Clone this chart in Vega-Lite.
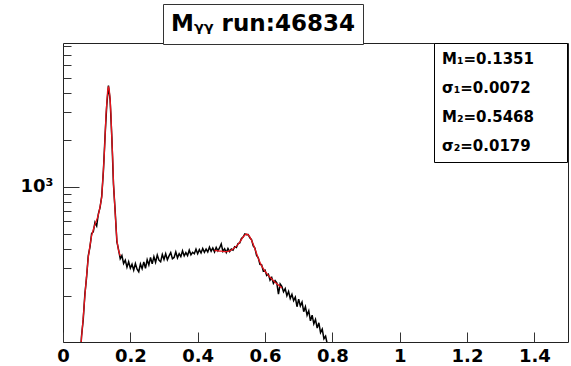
{
  "$schema": "https://vega.github.io/schema/vega-lite/v6.json",
  "width": 505,
  "height": 299,
  "autosize": {"type": "none"},
  "padding": {"left": 63, "top": 43, "right": 3, "bottom": 24},
  "background": "white",
  "config": {
    "view": {"stroke": "#222", "strokeWidth": 1},
    "font": "DejaVu Sans"
  },
  "datasets": {
    "hist": [
      {"x": 0.050, "y": 72}, {"x": 0.055, "y": 110}, {"x": 0.060, "y": 140}, {"x": 0.065, "y": 205},
      {"x": 0.070, "y": 262}, {"x": 0.075, "y": 360}, {"x": 0.080, "y": 410}, {"x": 0.085, "y": 500},
      {"x": 0.090, "y": 515}, {"x": 0.095, "y": 590}, {"x": 0.100, "y": 560}, {"x": 0.105, "y": 670},
      {"x": 0.110, "y": 735}, {"x": 0.115, "y": 870}, {"x": 0.120, "y": 1260}, {"x": 0.125, "y": 2130},
      {"x": 0.130, "y": 3350}, {"x": 0.135, "y": 4450}, {"x": 0.140, "y": 3600}, {"x": 0.145, "y": 2080},
      {"x": 0.150, "y": 1030}, {"x": 0.155, "y": 695}, {"x": 0.160, "y": 445}, {"x": 0.165, "y": 395},
      {"x": 0.170, "y": 345}, {"x": 0.175, "y": 362}, {"x": 0.180, "y": 322}, {"x": 0.185, "y": 338},
      {"x": 0.190, "y": 305}, {"x": 0.195, "y": 330}, {"x": 0.200, "y": 300}, {"x": 0.205, "y": 318},
      {"x": 0.210, "y": 292}, {"x": 0.215, "y": 322}, {"x": 0.220, "y": 296}, {"x": 0.225, "y": 285},
      {"x": 0.230, "y": 320}, {"x": 0.235, "y": 298}, {"x": 0.240, "y": 330}, {"x": 0.245, "y": 300},
      {"x": 0.250, "y": 340}, {"x": 0.255, "y": 315}, {"x": 0.260, "y": 352}, {"x": 0.265, "y": 320},
      {"x": 0.270, "y": 356}, {"x": 0.275, "y": 328}, {"x": 0.280, "y": 365}, {"x": 0.285, "y": 338},
      {"x": 0.290, "y": 330}, {"x": 0.295, "y": 368}, {"x": 0.300, "y": 342}, {"x": 0.305, "y": 372},
      {"x": 0.310, "y": 340}, {"x": 0.315, "y": 360}, {"x": 0.320, "y": 378}, {"x": 0.325, "y": 345},
      {"x": 0.330, "y": 352}, {"x": 0.335, "y": 382}, {"x": 0.340, "y": 350}, {"x": 0.345, "y": 372},
      {"x": 0.350, "y": 356}, {"x": 0.355, "y": 388}, {"x": 0.360, "y": 360}, {"x": 0.365, "y": 378},
      {"x": 0.370, "y": 362}, {"x": 0.375, "y": 392}, {"x": 0.380, "y": 366}, {"x": 0.385, "y": 380},
      {"x": 0.390, "y": 372}, {"x": 0.395, "y": 398}, {"x": 0.400, "y": 372}, {"x": 0.405, "y": 395},
      {"x": 0.410, "y": 376}, {"x": 0.415, "y": 402}, {"x": 0.420, "y": 380}, {"x": 0.425, "y": 398},
      {"x": 0.430, "y": 382}, {"x": 0.435, "y": 410}, {"x": 0.440, "y": 386}, {"x": 0.445, "y": 405},
      {"x": 0.450, "y": 382}, {"x": 0.455, "y": 408}, {"x": 0.460, "y": 388}, {"x": 0.465, "y": 405},
      {"x": 0.470, "y": 430}, {"x": 0.475, "y": 385}, {"x": 0.480, "y": 400}, {"x": 0.485, "y": 378},
      {"x": 0.490, "y": 402}, {"x": 0.495, "y": 384}, {"x": 0.500, "y": 398}, {"x": 0.505, "y": 392},
      {"x": 0.510, "y": 412}, {"x": 0.515, "y": 408}, {"x": 0.520, "y": 432}, {"x": 0.525, "y": 436},
      {"x": 0.530, "y": 466}, {"x": 0.535, "y": 476}, {"x": 0.540, "y": 498}, {"x": 0.545, "y": 492},
      {"x": 0.550, "y": 494}, {"x": 0.555, "y": 470}, {"x": 0.560, "y": 458}, {"x": 0.565, "y": 418},
      {"x": 0.570, "y": 404}, {"x": 0.575, "y": 362}, {"x": 0.580, "y": 350}, {"x": 0.585, "y": 318},
      {"x": 0.590, "y": 316}, {"x": 0.595, "y": 288}, {"x": 0.600, "y": 292}, {"x": 0.605, "y": 270},
      {"x": 0.610, "y": 275}, {"x": 0.615, "y": 252}, {"x": 0.620, "y": 262}, {"x": 0.625, "y": 240},
      {"x": 0.630, "y": 250}, {"x": 0.635, "y": 242}, {"x": 0.640, "y": 205}, {"x": 0.645, "y": 238},
      {"x": 0.650, "y": 230}, {"x": 0.655, "y": 212}, {"x": 0.660, "y": 222}, {"x": 0.665, "y": 200},
      {"x": 0.670, "y": 213}, {"x": 0.675, "y": 192}, {"x": 0.680, "y": 204}, {"x": 0.685, "y": 186},
      {"x": 0.690, "y": 196}, {"x": 0.695, "y": 170}, {"x": 0.700, "y": 190}, {"x": 0.705, "y": 172},
      {"x": 0.710, "y": 182}, {"x": 0.715, "y": 158}, {"x": 0.720, "y": 170}, {"x": 0.725, "y": 150},
      {"x": 0.730, "y": 160}, {"x": 0.735, "y": 138}, {"x": 0.740, "y": 150}, {"x": 0.745, "y": 132},
      {"x": 0.750, "y": 141}, {"x": 0.755, "y": 124}, {"x": 0.760, "y": 134}, {"x": 0.765, "y": 116},
      {"x": 0.770, "y": 122}, {"x": 0.775, "y": 106}, {"x": 0.780, "y": 110}, {"x": 0.785, "y": 98},
      {"x": 0.790, "y": 92}, {"x": 0.795, "y": 85}, {"x": 0.800, "y": 80}
    ],
    "fit": [
      {"x": 0.050, "y": 72, "seg": "A"}, {"x": 0.055, "y": 108, "seg": "A"}, {"x": 0.060, "y": 144, "seg": "A"},
      {"x": 0.065, "y": 200, "seg": "A"}, {"x": 0.070, "y": 268, "seg": "A"}, {"x": 0.075, "y": 351, "seg": "A"},
      {"x": 0.080, "y": 417, "seg": "A"}, {"x": 0.085, "y": 486, "seg": "A"}, {"x": 0.090, "y": 530, "seg": "A"},
      {"x": 0.095, "y": 575, "seg": "A"}, {"x": 0.100, "y": 611, "seg": "A"}, {"x": 0.105, "y": 658, "seg": "A"},
      {"x": 0.110, "y": 744, "seg": "A"}, {"x": 0.115, "y": 855, "seg": "A"}, {"x": 0.120, "y": 1280, "seg": "A"},
      {"x": 0.1225, "y": 1590, "seg": "A"}, {"x": 0.125, "y": 2100, "seg": "A"}, {"x": 0.1275, "y": 2860, "seg": "A"},
      {"x": 0.130, "y": 3400, "seg": "A"}, {"x": 0.1325, "y": 4100, "seg": "A"}, {"x": 0.135, "y": 4400, "seg": "A"},
      {"x": 0.1375, "y": 4150, "seg": "A"}, {"x": 0.140, "y": 3630, "seg": "A"}, {"x": 0.1425, "y": 2890, "seg": "A"},
      {"x": 0.145, "y": 2050, "seg": "A"}, {"x": 0.1475, "y": 1550, "seg": "A"}, {"x": 0.150, "y": 1050, "seg": "A"},
      {"x": 0.1525, "y": 842, "seg": "A"}, {"x": 0.155, "y": 680, "seg": "A"}, {"x": 0.160, "y": 455, "seg": "A"},
      {"x": 0.165, "y": 390, "seg": "A"}, {"x": 0.170, "y": 360, "seg": "A"},
      {"x": 0.450, "y": 390, "seg": "B"}, {"x": 0.455, "y": 389, "seg": "B"}, {"x": 0.460, "y": 388, "seg": "B"},
      {"x": 0.465, "y": 387, "seg": "B"}, {"x": 0.470, "y": 386, "seg": "B"}, {"x": 0.475, "y": 385, "seg": "B"},
      {"x": 0.480, "y": 384, "seg": "B"}, {"x": 0.485, "y": 384, "seg": "B"}, {"x": 0.490, "y": 385, "seg": "B"},
      {"x": 0.495, "y": 388, "seg": "B"}, {"x": 0.500, "y": 393, "seg": "B"}, {"x": 0.505, "y": 399, "seg": "B"},
      {"x": 0.510, "y": 407, "seg": "B"}, {"x": 0.515, "y": 416, "seg": "B"}, {"x": 0.520, "y": 427, "seg": "B"},
      {"x": 0.525, "y": 441, "seg": "B"}, {"x": 0.530, "y": 458, "seg": "B"}, {"x": 0.535, "y": 476, "seg": "B"},
      {"x": 0.540, "y": 490, "seg": "B"}, {"x": 0.545, "y": 497, "seg": "B"}, {"x": 0.550, "y": 492, "seg": "B"},
      {"x": 0.555, "y": 477, "seg": "B"}, {"x": 0.560, "y": 454, "seg": "B"}, {"x": 0.565, "y": 427, "seg": "B"},
      {"x": 0.570, "y": 400, "seg": "B"}, {"x": 0.575, "y": 373, "seg": "B"}, {"x": 0.580, "y": 348, "seg": "B"},
      {"x": 0.585, "y": 328, "seg": "B"}, {"x": 0.590, "y": 311, "seg": "B"}, {"x": 0.595, "y": 298, "seg": "B"},
      {"x": 0.600, "y": 287, "seg": "B"}, {"x": 0.605, "y": 278, "seg": "B"}, {"x": 0.610, "y": 270, "seg": "B"},
      {"x": 0.615, "y": 263, "seg": "B"}, {"x": 0.620, "y": 256, "seg": "B"}, {"x": 0.625, "y": 250, "seg": "B"},
      {"x": 0.630, "y": 244, "seg": "B"}, {"x": 0.635, "y": 239, "seg": "B"}, {"x": 0.640, "y": 234, "seg": "B"},
      {"x": 0.645, "y": 229, "seg": "B"}, {"x": 0.650, "y": 224, "seg": "B"}
    ],
    "stats": [
      {"stat": "M₁=0.1351"}, {"stat": "σ₁=0.0072"}, {"stat": "M₂=0.5468"}, {"stat": "σ₂=0.0179"}
    ],
    "shadow": [
      {"s": "M₁=0.1351"}, {"s": "σ₁=0.0072"}, {"s": "M₂=0.5468"}, {"s": "σ₂=0.0179"}
    ],
    "titlebox": [
      {"title": "Mᵧᵧ run:46834"}
    ]
  },
  "layer": [
    {
      "data": {"name": "hist"},
      "mark": {"type": "line", "color": "black", "strokeWidth": 1.5, "clip": true},
      "encoding": {
        "x": {
          "field": "x", "type": "quantitative",
          "scale": {"domain": [0, 1.5], "nice": false, "zero": false},
          "axis": {
            "title": null, "domain": false, "grid": false,
            "values": [0, 0.05, 0.1, 0.15, 0.2, 0.25, 0.3, 0.35, 0.4, 0.45, 0.5, 0.55, 0.6, 0.65, 0.7, 0.75, 0.8, 0.85, 0.9, 0.95, 1, 1.05, 1.1, 1.15, 1.2, 1.25, 1.3, 1.35, 1.4, 1.45],
            "tickSize": {"condition": {"test": "abs(datum.value*5 - round(datum.value*5)) < 0.001", "value": -10}, "value": -5},
            "tickColor": "#333", "tickWidth": 1,
            "labelExpr": "abs(datum.value*5 - round(datum.value*5)) < 0.001 ? format(datum.value, '~g') : ''",
            "labelFont": "DejaVu Sans", "labelFontWeight": "bold", "labelFontSize": 18, "labelColor": "black",
            "labelPadding": 15, "labelFlush": false, "labelOverlap": false
          }
        },
        "y": {
          "field": "y", "type": "quantitative",
          "scale": {"type": "log", "domain": [101, 8350], "nice": false, "zero": false},
          "axis": {
            "title": null, "domain": false, "grid": false,
            "values": [200, 300, 400, 500, 600, 700, 800, 900, 1000, 2000, 3000, 4000, 5000, 6000, 7000, 8000],
            "tickSize": {"condition": {"test": "datum.value == 1000", "value": -16}, "value": -8},
            "tickColor": "#333", "tickWidth": 1,
            "labelExpr": "datum.value == 1000 ? '10³' : ''",
            "labelFont": "DejaVu Sans", "labelFontWeight": "bold", "labelFontSize": 18, "labelColor": "black",
            "labelPadding": 26, "labelOverlap": false
          }
        }
      }
    },
    {
      "data": {"name": "fit"},
      "mark": {"type": "line", "color": "#e8141c", "strokeWidth": 1.3, "clip": true},
      "encoding": {
        "x": {"field": "x", "type": "quantitative"},
        "y": {"field": "y", "type": "quantitative"},
        "detail": {"field": "seg"}
      }
    },
    {
      "data": {"name": "stats"},
      "mark": {"type": "point", "opacity": 0},
      "encoding": {
        "fill": {
          "field": "stat", "type": "nominal",
          "scale": {"domain": ["M₁=0.1351", "σ₁=0.0072", "M₂=0.5468", "σ₂=0.0179"], "range": ["white", "white", "white", "white"]},
          "legend": {
            "title": null, "orient": "none", "legendX": 371, "legendY": 0,
            "strokeColor": "black", "fillColor": "white", "padding": 8,
            "labelFont": "DejaVu Sans", "labelFontWeight": "bold", "labelFontSize": 15, "labelColor": "black",
            "symbolOpacity": 0, "symbolSize": 1, "symbolStrokeWidth": 0, "symbolOffset": 109, "labelOffset": -124, "rowPadding": 13
          }
        }
      }
    },
    {
      "data": {"name": "shadow"},
      "mark": {"type": "point", "opacity": 0},
      "encoding": {
        "color": {
          "field": "s", "type": "nominal",
          "scale": {"domain": ["M₁=0.1351", "σ₁=0.0072", "M₂=0.5468", "σ₂=0.0179"], "range": ["black", "black", "black", "black"]},
          "legend": {
            "title": null, "orient": "none", "legendX": 374, "legendY": 3,
            "strokeColor": "black", "fillColor": "black", "padding": 8,
            "labelFont": "DejaVu Sans", "labelFontWeight": "bold", "labelFontSize": 15, "labelColor": "black",
            "symbolOpacity": 0, "symbolSize": 1, "symbolStrokeWidth": 0, "symbolOffset": 109, "labelOffset": -124, "rowPadding": 13
          }
        }
      }
    },
    {
      "data": {"name": "titlebox"},
      "mark": {"type": "point", "opacity": 0},
      "encoding": {
        "shape": {
          "field": "title", "type": "nominal",
          "legend": {
            "title": null, "orient": "none", "legendX": 100, "legendY": -39,
            "strokeColor": "#333", "fillColor": "white", "padding": 8,
            "labelFont": "DejaVu Sans", "labelFontWeight": "bold", "labelFontSize": 23, "labelColor": "black",
            "symbolOpacity": 0, "symbolSize": 1, "symbolStrokeWidth": 0, "labelOffset": -23, "labelLimit": 400
          }
        }
      }
    }
  ]
}
